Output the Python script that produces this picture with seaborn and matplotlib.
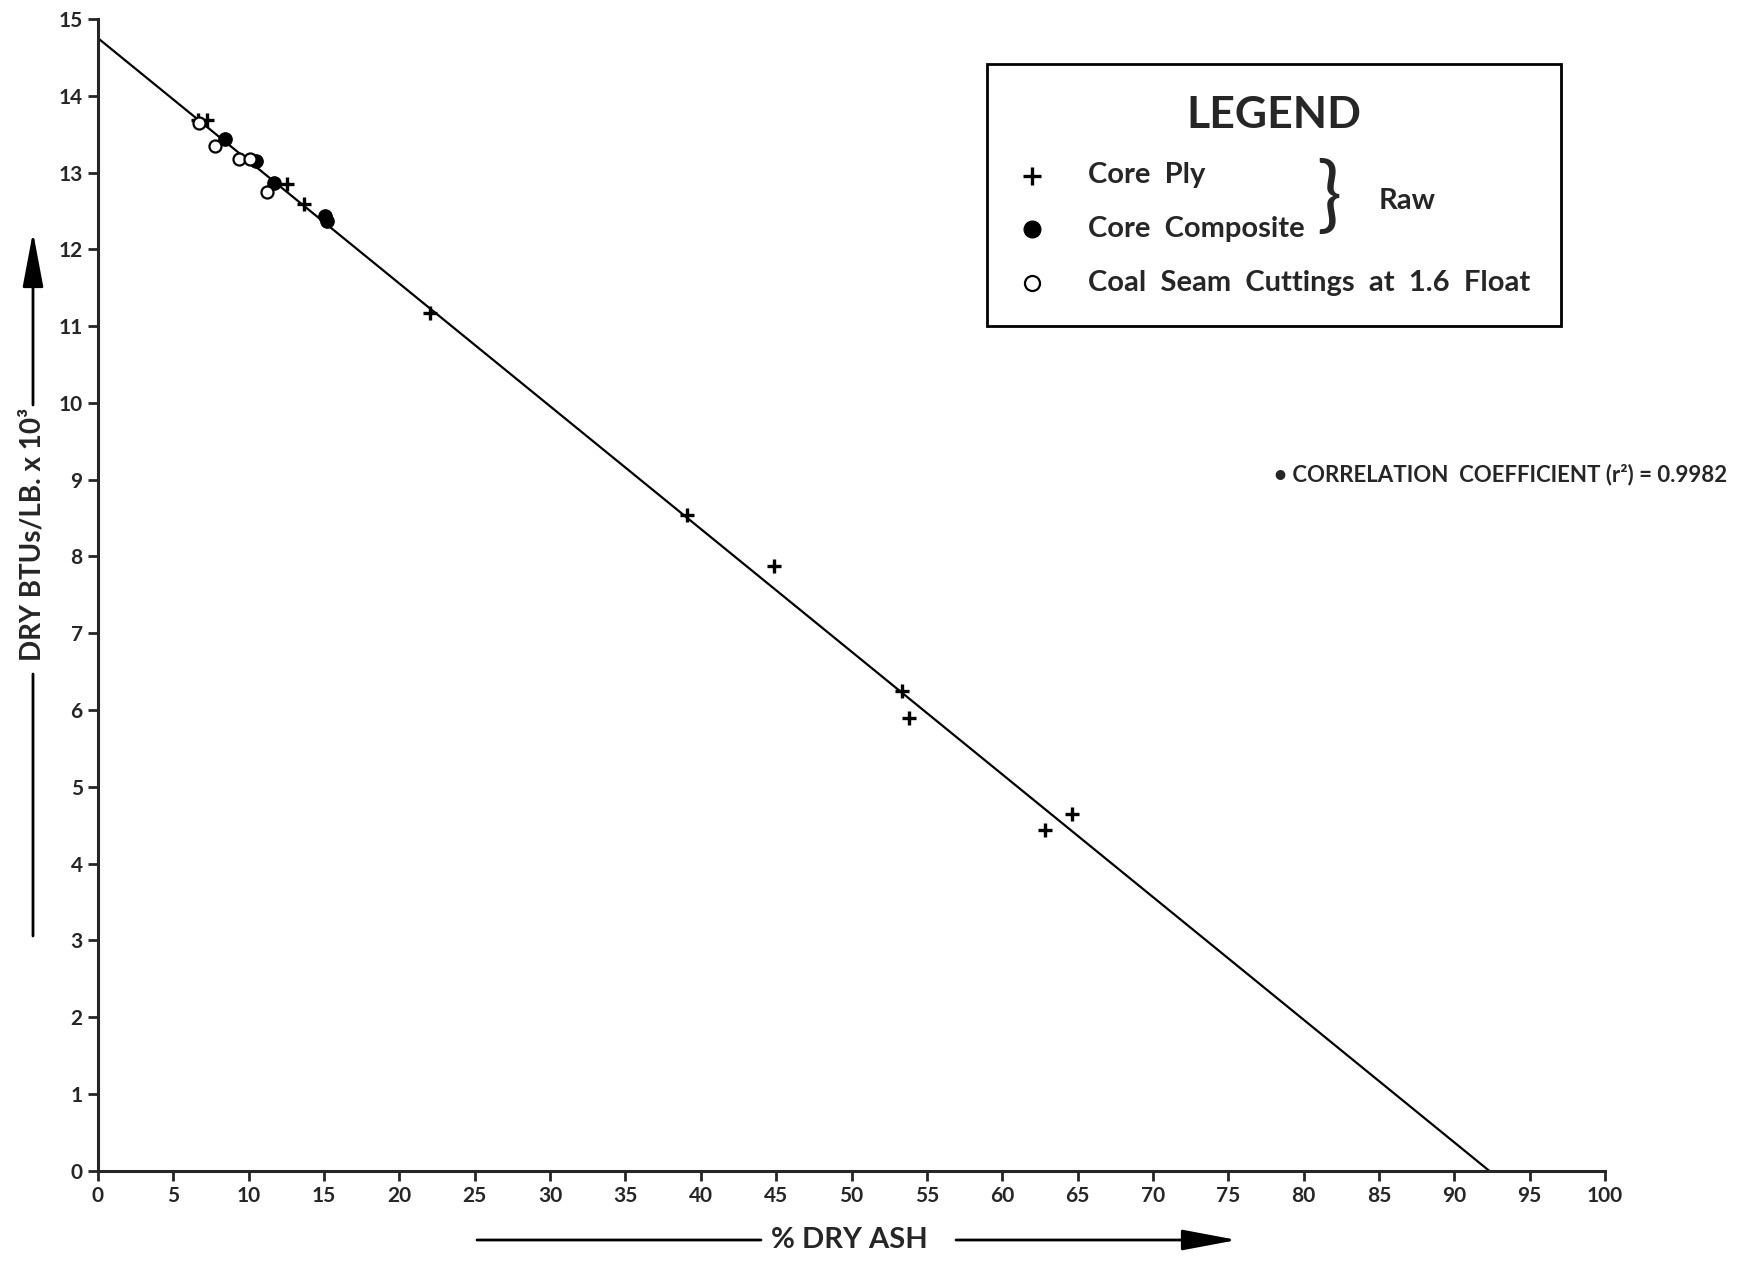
import matplotlib
matplotlib.use("Agg")
import matplotlib.pyplot as plt
import seaborn as sns

# values (x = % dry ash, y = dry BTUs/lb x 10^3)
core_ply_ash = [6.66, 7.21, 12.52, 13.69, 22.05, 39.06, 44.86, 53.33, 53.80, 62.84, 64.61]
core_ply_btu = [13.69, 13.69, 12.85, 12.59, 11.17, 8.54, 7.88, 6.25, 5.89, 4.43, 4.64]
composite_ash = [8.45, 10.48, 11.68, 15.06, 15.17]
composite_btu = [13.44, 13.15, 12.86, 12.44, 12.37]
float_ash = [6.70, 7.79, 9.38, 10.09, 11.19]
float_btu = [13.65, 13.35, 13.18, 13.17, 12.75]
fit_ash = [0, 92.3]
fit_btu = [14.75, 0]
x_ticks = list(range(0, 101, 5))
y_ticks = list(range(0, 16))

sns.set_style("ticks")
plt.rcParams['font.family'] = ['Lato', 'DejaVu Sans']
plt.rcParams['font.weight'] = 'bold'

fig = plt.figure(figsize=(17.48, 12.68), dpi=100)
ax = fig.add_axes([98/1748, 97.4/1268, 1507/1748, 1151.6/1268])

sns.lineplot(x=fit_ash, y=fit_btu, color='black', linewidth=1.6, ax=ax)
sns.scatterplot(x=core_ply_ash, y=core_ply_btu, marker='+', s=100, color='black',
                linewidth=2.4, label='Core  Ply', ax=ax, zorder=3)
sns.scatterplot(x=composite_ash, y=composite_btu, marker='o', s=95, color='black',
                edgecolor='black', label='Core  Composite', ax=ax, zorder=3)
sns.scatterplot(x=float_ash, y=float_btu, marker='o', s=75, facecolor='white',
                edgecolor='black', linewidth=1.6, label='Coal  Seam  Cuttings  at  1.6  Float',
                ax=ax, zorder=3)

ax.set_xlim(0, 100)
ax.set_ylim(0, 15)
ax.set_xticks(x_ticks)
ax.set_yticks(y_ticks)
ax.tick_params(axis='both', direction='out', length=7, width=2, labelsize=15, pad=4)
for lab in ax.get_xticklabels() + ax.get_yticklabels():
    lab.set_fontweight('bold')
sns.despine(ax=ax)
ax.spines['left'].set_linewidth(2.2)
ax.spines['bottom'].set_linewidth(2.2)
ax.set_xlabel('')
ax.set_ylabel('')

leg = ax.legend(title='LEGEND', loc='upper left', bbox_to_anchor=(987/1748, 1 - 64/1268),
                bbox_transform=fig.transFigure, borderaxespad=0, fontsize=21,
                title_fontproperties={'weight': 'bold', 'size': 32},
                frameon=True, fancybox=False, edgecolor='black', framealpha=1,
                borderpad=1.05, handlelength=1.0, handletextpad=1.4, labelspacing=0.95,
                markerscale=1.25)
leg.get_frame().set_linewidth(2)
for t in leg.get_texts():
    t.set_fontweight('bold')

fig.text(1329/1748, 1 - 199/1268, '}', family=['Lato', 'DejaVu Sans'], fontsize=60,
         fontweight='normal', ha='center', va='center')
fig.text(1379/1748, 1 - 201/1268, 'Raw', fontsize=21, fontweight='bold', ha='left', va='center')

fig.text(1274/1748, 1 - 475/1268, '• CORRELATION  COEFFICIENT (r²) = 0.9982',
         fontsize=16, fontweight='bold', ha='left', va='center')

# axis titles with arrows
arrow = dict(arrowstyle='-|>,head_length=1.7,head_width=0.32', color='black', lw=2,
             mutation_scale=20, shrinkA=0, shrinkB=0)
plain = dict(arrowstyle='-', color='black', lw=2, shrinkA=0, shrinkB=0)
fig.text(849/1748, 1 - 1240/1268, '% DRY ASH', fontsize=21, fontweight='bold', ha='center', va='center')
ax.annotate('', xy=(761/1748, 1 - 1240/1268), xytext=(477/1748, 1 - 1240/1268),
            xycoords='figure fraction', textcoords='figure fraction', arrowprops=plain)
ax.annotate('', xy=(1237/1748, 1 - 1240/1268), xytext=(956/1748, 1 - 1240/1268),
            xycoords='figure fraction', textcoords='figure fraction', arrowprops=arrow)

fig.text(33/1748, 1 - 534/1268, 'DRY BTUs/LB. x 10³', fontsize=20, fontweight='bold',
         rotation=90, ha='center', va='center')
ax.annotate('', xy=(33/1748, 1 - 674/1268), xytext=(33/1748, 1 - 936/1268),
            xycoords='figure fraction', textcoords='figure fraction', arrowprops=plain)
ax.annotate('', xy=(33/1748, 1 - 232/1268), xytext=(33/1748, 1 - 405/1268),
            xycoords='figure fraction', textcoords='figure fraction', arrowprops=arrow)

plt.savefig('out.png', dpi=100)
